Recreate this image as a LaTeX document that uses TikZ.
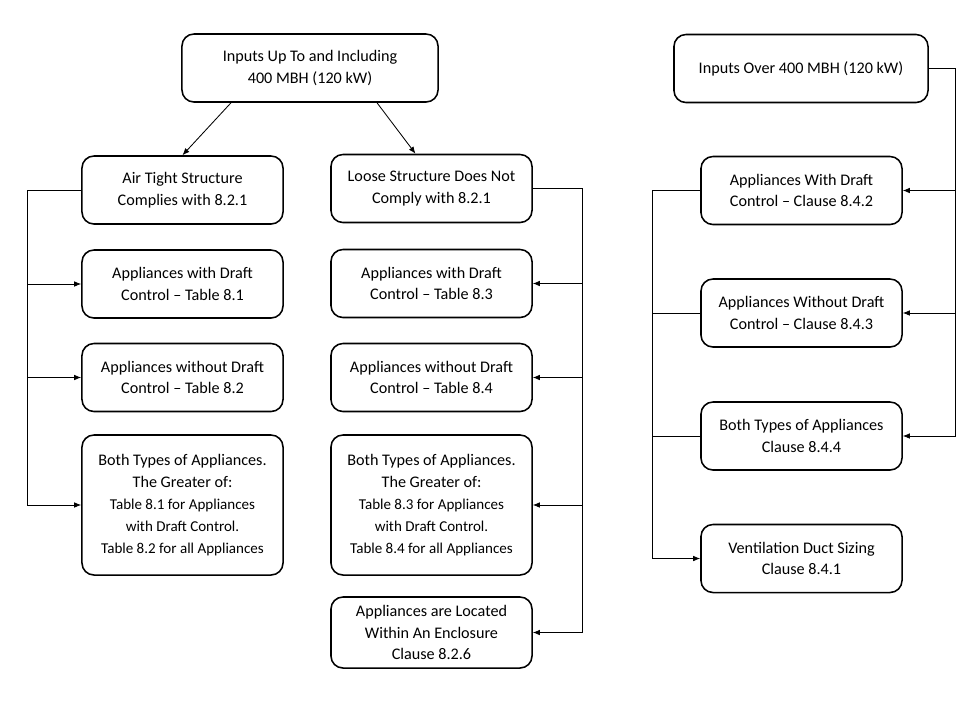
\documentclass[tikz,border=0pt]{standalone}
\usepackage{fontspec}
\setmainfont{Carlito}
\usetikzlibrary{arrows.meta,positioning}

\newcommand{\tabfont}{\fontsize{10.7}{14}\selectfont}

\tikzset{
	box/.style={draw, rounded corners=0.3cm, line width=1.1pt, align=center,
		minimum width=5.025cm, minimum height=1.7cm, inner sep=2pt,
		font=\fontsize{11.5}{15.5}\selectfont},
	link/.style={line width=0.6pt},
	arr/.style={link, -{Latex[length=5pt,width=4pt]}},
}

\begin{document}
\begin{tikzpicture}[x=0.025cm, y=-0.025cm]
	\useasboundingbox (0,0) rectangle (978,706);

	% up to 400 MBH
	\node[box, minimum width=6.4cm] (upto) at (310,68) {Inputs Up To and Including\\400 MBH (120 kW)};

	\node[box] (air) at (182.5,190) {Air Tight Structure\\Complies with 8.2.1};
	\node[box] (ldraft) at (182.5,284) {Appliances with Draft\\Control -- Table 8.1};
	\node[box] (lnodraft) at (182.5,377.5) {Appliances without Draft\\Control -- Table 8.2};
	\node[box, minimum height=3.5cm] (lboth) at (182.5,505) {Both Types of Appliances.\\The Greater of:\\\tabfont Table 8.1 for Appliances\\\tabfont with Draft Control.\\\tabfont Table 8.2 for all Appliances};

	\node[box] (loose) at (431.5,188.5) {Loose Structure Does Not\\Comply with 8.2.1};
	\node[box] (mdraft) at (431.5,283.5) {Appliances with Draft\\Control -- Table 8.3};
	\node[box] (mnodraft) at (431.5,377.5) {Appliances without Draft\\Control -- Table 8.4};
	\node[box, minimum height=3.5cm] (mboth) at (431.5,505) {Both Types of Appliances.\\The Greater of:\\\tabfont Table 8.3 for Appliances\\\tabfont with Draft Control.\\\tabfont Table 8.4 for all Appliances};
	\node[box, minimum height=1.775cm] (encl) at (431.5,632.5) {Appliances are Located\\Within An Enclosure\\Clause 8.2.6};

	\draw[arr] ([xshift=-1.975cm]upto.south) -- (air.north);
	\draw[arr] ([xshift=1.675cm]upto.south) -- ([xshift=-0.4cm]loose.north);

	\draw[link] (air.west) -- ++(-54,0) coordinate (lbus);
	\draw[arr] (lbus) |- (ldraft.west);
	\draw[arr] (lbus) |- (lnodraft.west);
	\draw[arr] (lbus) |- (lboth.west);

	\draw[link] (loose.east) -- ++(50,0) coordinate (mbus);
	\draw[arr] (mbus) |- (mdraft.east);
	\draw[arr] (mbus) |- (mnodraft.east);
	\draw[arr] (mbus) |- (mboth.east);
	\draw[arr] (mbus) |- (encl.east);

	% over 400 MBH
	\node[box, minimum width=6.35cm] (over) at (801,68.5) {Inputs Over 400 MBH (120 kW)};

	\node[box] (rdraft) at (801.5,190.5) {Appliances With Draft\\Control -- Clause 8.4.2};
	\node[box] (rnodraft) at (801.5,313) {Appliances Without Draft\\Control -- Clause 8.4.3};
	\node[box] (rboth) at (801.5,436) {Both Types of Appliances\\Clause 8.4.4};
	\node[box] (duct) at (801.5,558.5) {Ventilation Duct Sizing\\Clause 8.4.1};

	\draw[link] (over.east) -- ++(27,0) coordinate (rbus);
	\draw[arr] (rbus) |- (rdraft.east);
	\draw[arr] (rbus) |- (rnodraft.east);
	\draw[arr] (rbus) |- (rboth.east);

	\draw[link] (rdraft.west) -- ++(-48,0) coordinate (sbus);
	\draw[link] (rnodraft.west) -- (rnodraft.west -| sbus);
	\draw[link] (rboth.west) -- (rboth.west -| sbus);
	\draw[arr] (sbus) |- (duct.west);
\end{tikzpicture}
\end{document}
